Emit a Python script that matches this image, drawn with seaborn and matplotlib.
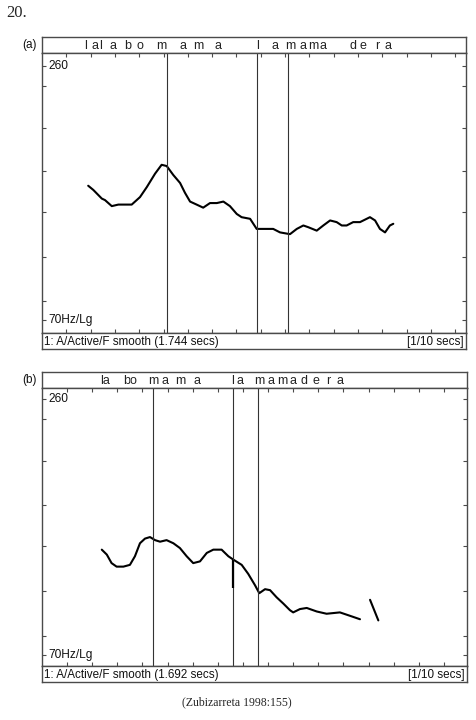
"""
Pitch tracks of "lalabomama lamamadera" (Zubizarreta 1998:155)
"""

import matplotlib
matplotlib.use("Agg")
import matplotlib.pyplot as plt
from matplotlib.ticker import FixedLocator, NullLocator, NullFormatter
import seaborn as sns

# ---- panel (a) ----
dur_a = 1.744
time_a = [0.190, 0.211, 0.246, 0.259, 0.287, 0.314, 0.341, 0.369, 0.403, 0.431,
          0.465, 0.492, 0.513, 0.540, 0.568, 0.588, 0.609, 0.636, 0.663, 0.691,
          0.719, 0.746, 0.773, 0.801, 0.821, 0.856, 0.883, 0.917, 0.951, 0.979,
          1.020, 1.048, 1.075, 1.095, 1.130, 1.157, 1.185, 1.212, 1.233, 1.253,
          1.280, 1.308, 1.349, 1.370, 1.390, 1.411, 1.431, 1.445]
f0_a = [140, 137, 131, 130, 126, 127, 127, 127, 132, 139,
        149, 156, 155, 148, 142, 135, 129, 127, 125, 128,
        128, 129, 126, 121, 119, 118, 112, 112, 112, 110,
        109, 112, 114, 113, 111, 114, 117, 116, 114, 114,
        116, 116, 119, 117, 112, 110, 114, 115]
bounds_a = [0.514, 0.884, 1.012]
letters_a = ["l", "a", "l", "a", "b", "o", "m", "a", "m", "a",
             "l", "a", "m", "a", "m", "a", "d", "e", "r", "a"]
letter_t_a = [0.181, 0.218, 0.241, 0.294, 0.354, 0.403, 0.490, 0.580, 0.642, 0.724,
              0.888, 0.958, 1.020, 1.074, 1.115, 1.156, 1.279, 1.320, 1.378, 1.423]
ylim_a = (65.4, 278)

# ---- panel (b) ----
dur_b = 1.692
time_b = [0.238, 0.258, 0.277, 0.297, 0.324, 0.350, 0.370, 0.390, 0.410, 0.430,
          0.450, 0.470, 0.496, 0.523, 0.549, 0.576, 0.602, 0.629, 0.656, 0.682,
          0.715, 0.742, 0.762, 0.795, 0.821, 0.848, 0.865, 0.888, 0.908, 0.934,
          0.961, 0.987, 1.000, 1.027, 1.054, 1.094, 1.133, 1.186, 1.226, 1.266]
f0_b = [120, 117, 112, 110, 110, 111, 116, 124, 127, 128,
        126, 125, 126, 124, 121, 116, 112, 113, 118, 120,
        120, 116, 114, 111, 106, 100, 96, 98, 97.5, 94,
        91, 88, 87, 88.5, 89, 87.4, 86.4, 87, 85.5, 84]
time_b2 = [1.306, 1.339]
f0_b2 = [92.8, 83.5]
frag_b = (0.762, 98.7, 114)
bounds_b = [0.441, 0.762, 0.859]
letters_b = ["la", "bo", "m", "a", "m", "a", "l", "a",
             "m", "a", "m", "a", "d", "e", "r", "a"]
letter_t_b = [0.251, 0.350, 0.442, 0.490, 0.549, 0.617, 0.760, 0.788,
              0.864, 0.912, 0.955, 0.999, 1.043, 1.091, 1.139, 1.186]
ylim_b = (66.1, 274.8)

yticks = [70, 77, 97, 122, 151, 189, 234, 260]

W, H = 477, 720
EDGE = "#4a4a4a"


def px_rect(x0, y0, x1, y1):
    return [x0 / W, 1 - y1 / H, (x1 - x0) / W, (y1 - y0) / H]


def draw_panel(fig, tag, top, plot_bottom, x1, dur, t, f0, bounds,
               letters, letter_t, ylim, footer):
    x0 = 42
    head = fig.add_axes(px_rect(x0, top, x1, top + 16))
    ax = fig.add_axes(px_rect(x0, top + 16, x1, plot_bottom))
    foot = fig.add_axes(px_rect(x0, plot_bottom, x1, plot_bottom + 16))

    for a in (head, ax, foot):
        a.set_xlim(0, dur)
        for s in a.spines.values():
            s.set_color(EDGE)
            s.set_linewidth(1.0)

    head.set_ylim(0, 1)
    head.set_xticks([])
    head.set_yticks([])
    for lab, lt in zip(letters, letter_t):
        head.text(lt, 0.45, lab, ha="center", va="center", fontsize=9,
                  color="#222222")

    foot.set_xticks([])
    foot.set_yticks([])
    foot.text(0.005, 0.45, footer, transform=foot.transAxes, ha="left",
              va="center", fontsize=8.4, color="#111111")
    foot.text(0.995, 0.45, "[1/10 secs]", transform=foot.transAxes,
              ha="right", va="center", fontsize=8.4, color="#111111")

    sns.lineplot(x=t, y=f0, ax=ax, color="black", linewidth=1.5)
    ax.set_yscale("log")
    ax.set_ylim(*ylim)
    ax.yaxis.set_major_locator(FixedLocator(yticks))
    ax.yaxis.set_minor_locator(NullLocator())
    ax.yaxis.set_major_formatter(NullFormatter())
    ax.set_xticks([i / 10 for i in range(1, int(dur * 10) + 1)])
    ax.set_xticklabels([])
    ax.tick_params(axis="both", direction="in", length=3, width=0.8,
                   colors=EDGE, top=True, right=True, bottom=True, left=True)
    ax.set_xlabel("")
    ax.set_ylabel("")
    for b in bounds:
        ax.axvline(b, color="#333333", linewidth=0.8)

    ax.text(0.016, 260, "260", transform=ax.get_yaxis_transform(),
            ha="left", va="center", fontsize=8.6, color="#111111")
    ax.text(0.016, 70, "70Hz/Lg", transform=ax.get_yaxis_transform(),
            ha="left", va="center", fontsize=8.6, color="#111111")

    fig.text(22 / W, 1 - (top + 8) / H, tag, ha="left", va="center",
             fontsize=8.5, color="#111111")
    return ax


sns.set_style("white")
plt.rcParams["font.family"] = ["Liberation Sans", "DejaVu Sans"]

fig = plt.figure(figsize=(W / 100, H / 100), dpi=100)

draw_panel(fig, "(a)", 37, 333, 466, dur_a, time_a, f0_a, bounds_a,
           letters_a, letter_t_a, ylim_a, "1: A/Active/F smooth (1.744 secs)")
ax_b = draw_panel(fig, "(b)", 372, 666, 467, dur_b, time_b, f0_b, bounds_b,
                  letters_b, letter_t_b, ylim_b,
                  "1: A/Active/F smooth (1.692 secs)")
sns.lineplot(x=time_b2, y=f0_b2, ax=ax_b, color="black", linewidth=1.5)
ax_b.vlines(frag_b[0], frag_b[1], frag_b[2], color="black", linewidth=1.6)
ax_b.set_ylim(*ylim_b)

fig.text(6 / W, 1 - 13 / H, "20.", ha="left", va="center", fontsize=12,
         family=["Liberation Serif", "DejaVu Serif"])
fig.text(237 / W, 1 - 702 / H, "(Zubizarreta 1998:155)", ha="center",
         va="center", fontsize=8.5, family=["Liberation Serif", "DejaVu Serif"])

fig.savefig("out.png", dpi=100)
